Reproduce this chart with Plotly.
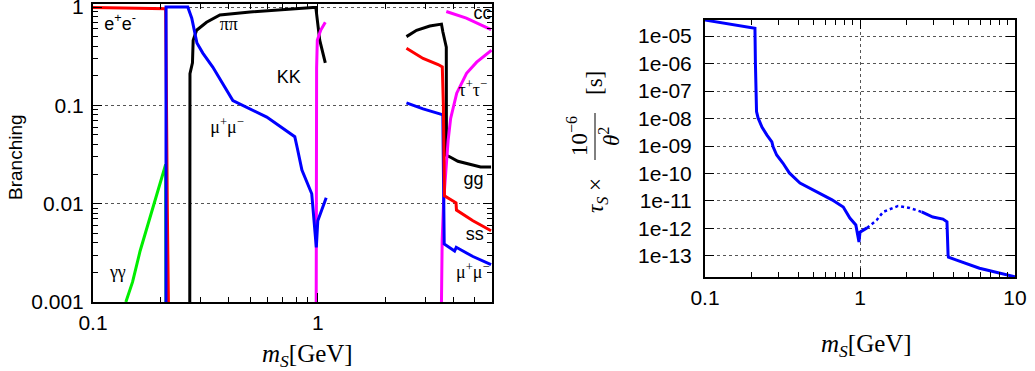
import plotly.graph_objects as go

##########################################################################################################################
# left panel : branching ratios of the scalar, m_S in GeV
##########################################################################################################################

ee_m = [0.1, 0.15, 0.2, 0.2105, 0.2115, 0.2125, 0.214, 0.2165]
ee_br = [0.99, 0.98, 0.97, 0.96, 0.3, 0.05, 0.01, 0.001]

gam_m = [0.14, 0.15, 0.162, 0.175, 0.185, 0.195, 0.205, 0.2105, 0.2112]
gam_br = [0.001, 0.0016, 0.0033, 0.006, 0.0095, 0.014, 0.021, 0.025, 0.001]

mu_m = [0.2112, 0.2113, 0.264, 0.27, 0.275, 0.29, 0.308, 0.341, 0.378, 0.419, 0.593, 0.79, 0.81, 0.85, 0.94, 0.985, 1.0, 1.09]
mu_br = [0.001, 1.0, 1.0, 0.87, 0.77, 0.43, 0.34, 0.245, 0.167, 0.112, 0.076, 0.048, 0.037, 0.022, 0.0126, 0.0036, 0.0067, 0.0115]

pi_m = [0.2695, 0.2697, 0.27, 0.277, 0.279, 0.289, 0.32, 0.367, 0.5, 0.95, 0.98, 1.02, 1.08]
pi_br = [0.001, 0.112, 0.21, 0.27, 0.46, 0.58, 0.7, 0.83, 0.89, 0.99, 0.99, 0.46, 0.27]

kk_m = [0.984, 0.985, 0.986, 0.988, 0.995, 1.03, 1.08]
kk_br = [0.001, 0.02, 0.1, 0.24, 0.46, 0.58, 0.7]

# perturbative region
gg_m = [2.48, 2.75, 3.15, 3.55, 3.6, 3.73, 3.735, 3.86, 4.2, 5.3, 5.9]
gg_br = [0.5, 0.58, 0.64, 0.67, 0.56, 0.39, 0.031, 0.03, 0.027, 0.0236, 0.0236]

ss_m = [2.48, 2.94, 3.43, 3.58, 3.62, 3.66, 4.12, 4.14, 4.9, 5.9]
ss_br = [0.38, 0.3, 0.26, 0.246, 0.1, 0.012, 0.0102, 0.0086, 0.0067, 0.0053]

mu2_m = [2.48, 2.94, 3.49, 3.6, 3.65, 4.06, 4.13, 4.9, 5.9]
mu2_br = [0.106, 0.092, 0.082, 0.08, 0.0039, 0.0033, 0.0036, 0.0029, 0.0024]

cc_m = [3.73, 4.58, 5.9]
cc_br = [0.9, 0.77, 0.59]

tau_m = [3.55, 3.575, 3.63, 3.71, 3.8, 3.9, 4.15, 4.59, 5.09, 5.93]
tau_br = [0.001, 0.0042, 0.0107, 0.0217, 0.044, 0.0736, 0.133, 0.212, 0.275, 0.364]

##########################################################################################################################
# right panel : lifetime tau_S * 1e-6/theta^2 [s]
##########################################################################################################################

life_m1 = [0.1, 0.21, 0.2115, 0.2125, 0.215, 0.22, 0.233, 0.251, 0.27, 0.275, 0.29, 0.318, 0.35, 0.41, 0.53, 0.66, 0.78, 0.86, 0.94, 0.985, 1.0, 1.11]
life_t1 = [3.8e-05, 1.9e-05, 1e-06, 4.0e-08, 1.8e-08, 1.05e-08, 4.9e-09, 2.5e-09, 1.4e-09, 9.3e-10, 4.7e-10, 2.4e-10, 1.05e-10,
           4.5e-11, 2.1e-11, 1.1e-11, 6.0e-12, 2.4e-12, 1.35e-12, 3.2e-13, 7.4e-13, 1.05e-12]

life_m_dot = [1.11, 1.28, 1.41, 1.76, 2.09, 2.5]
life_t_dot = [1.05e-12, 2.0e-12, 4.0e-12, 6.6e-12, 5.6e-12, 4.0e-12]

life_m2 = [2.5, 2.95, 3.43, 3.64, 3.7, 3.72, 4.2, 5.9, 10]
life_t2 = [4.0e-12, 2.6e-12, 2.2e-12, 1.75e-12, 1.1e-13, 9.1e-14, 7.1e-14, 3.6e-14, 1.75e-14]

##########################################################################################################################

RED = '#ff0000'
BLUE = '#0000ff'
GREEN = '#00ee00'
MAGENTA = '#ff00ff'
BLACK = '#000000'
SANS = 'Liberation Sans, Arial, sans-serif'
SERIF = 'Liberation Serif, Times New Roman, serif'

fig = go.Figure()

def add_line(x, y, color, xa='x', ya='y', width=3, dash='solid'):
    fig.add_trace(go.Scatter(x=x, y=y, mode='lines', xaxis=xa, yaxis=ya,
                             line=dict(color=color, width=width, dash=dash),
                             showlegend=False, hoverinfo='skip'))

# left panel
add_line(gam_m, gam_br, GREEN)
add_line(ee_m, ee_br, RED)
add_line(pi_m, pi_br, BLACK)
add_line(kk_m, kk_br, MAGENTA)
add_line(mu_m, mu_br, BLUE)
add_line(gg_m, gg_br, BLACK)
add_line(cc_m, cc_br, MAGENTA)
add_line(tau_m, tau_br, MAGENTA)
add_line(mu2_m, mu2_br, BLUE)
add_line(ss_m, ss_br, RED)

# labels (scatter text so they are clipped by the frame like the original)
labels = [
    ('e<sup>+</sup>e<sup>-</sup>', 0.132, 0.655, SANS),
    ('\u03c0\u03c0', 0.402, 0.655, SERIF),
    ('KK', 0.743, 0.189, SANS),
    ('\u03bc<sup>+</sup>\u03bc<sup>\u2212</sup>', 0.395, 0.058, SERIF),
    ('\u03b3\u03b3', 0.129, 0.00193, SERIF),
    ('cc', 5.41, 0.83, SANS),
    ('\u03c4<sup>+</sup>\u03c4<sup>\u2212</sup>', 4.89, 0.139, SERIF),
    ('gg', 4.93, 0.0172, SANS),
    ('ss', 4.99, 0.0047, SANS),
    ('\u03bc<sup>+</sup>\u03bc<sup>\u2212</sup>', 4.89, 0.00193, SERIF),
]
for txt, lx, ly, fam in labels:
    fig.add_trace(go.Scatter(x=[lx], y=[ly], mode='text', text=[txt], textposition='middle center',
                             textfont=dict(family=fam, size=18, color='black'),
                             cliponaxis=True, showlegend=False, hoverinfo='skip'))

# right panel
add_line(life_m1, life_t1, BLUE, 'x2', 'y2')
add_line(life_m_dot, life_t_dot, BLUE, 'x2', 'y2', width=2.5, dash='dot')
add_line(life_m2, life_t2, BLUE, 'x2', 'y2')

##########################################################################################################################
# axes
##########################################################################################################################

W, H = 1035, 371

def minor_vals(lo, hi):
    out = []
    e = lo
    while e < hi:
        for k in range(2, 10):
            out.append(k * 10 ** e)
        e += 1
    return out

axis_common = dict(type='log', showline=True, linecolor='black', linewidth=2, mirror='ticks',
                   ticks='inside', ticklen=9, tickwidth=1, tickcolor='black', zeroline=False,
                   automargin=False, ticklabeloverflow='allow',
                   tickfont=dict(family=SANS, size=21, color='black'),
                   gridcolor='#555555', griddash='dot', gridwidth=1)

left_minor_x = [v for v in minor_vals(-1, 1) if v <= 6]

fig.update_layout(
    width=W, height=H,
    margin=dict(l=0, r=0, t=0, b=0, pad=0, autoexpand=False),
    paper_bgcolor='white', plot_bgcolor='white',
    xaxis=dict(axis_common, domain=[93 / W, 492 / W], range=[-1, 0.775], showgrid=False,
               tickmode='array', tickvals=[0.1, 1], ticktext=['0.1', '1'], ticklabelstandoff=1,
               minor=dict(tickmode='array', tickvals=left_minor_x, ticks='inside', ticklen=5, tickcolor='black', showgrid=False),
               anchor='y'),
    yaxis=dict(axis_common, domain=[1 - 302 / H, 1 - 4 / H], range=[-3, 0.0306], showgrid=True,
               tickmode='array', tickvals=[0.001, 0.01, 0.1, 1], ticktext=['0.001', '0.01', '0.1', '1'], ticklabelstandoff=3,
               minor=dict(tickmode='array', tickvals=minor_vals(-3, 0), ticks='inside', ticklen=5, tickcolor='black', showgrid=False),
               anchor='x'),
    xaxis2=dict(axis_common, domain=[705 / W, 1015 / W], range=[-1, 1], showgrid=True,
                tickmode='array', tickvals=[0.1, 1, 10], ticktext=['0.1', '1', '10'], ticklabelstandoff=1,
                minor=dict(tickmode='array', tickvals=minor_vals(-1, 1), ticks='inside', ticklen=5, tickcolor='black', showgrid=False),
                anchor='y2'),
    yaxis2=dict(axis_common, domain=[1 - 277 / H, 1 - 20 / H], range=[-13.764, -4.418], showgrid=True,
                tickmode='array', tickvals=[10 ** -k for k in range(5, 14)],
                ticktext=['1e-%02d' % k for k in range(5, 14)], ticklabelstandoff=7,
                anchor='x2'),
)

##########################################################################################################################
# axis titles
##########################################################################################################################

def note(text, px, py, size, fam=SERIF, angle=0):
    fig.add_annotation(text=text, x=px / W, y=1 - py / H, xref='paper', yref='paper', textangle=angle,
                       xanchor='center', yanchor='middle', showarrow=False,
                       font=dict(family=fam, size=size, color='black'))

note('Branching', 16, 157, 19, SANS, -90)
note('<i>m</i><sub><i>S</i></sub>[GeV]', 307, 355, 25)
note('<i>m</i><sub><i>S</i></sub>[GeV]', 866, 345, 25)

# tau_S x 10^-6 / theta^2 [s], written as a fraction
note('<i>\u03c4</i><sub><i>S</i></sub> \u00d7', 597, 196, 23, angle=-90)
note('10<sup>\u22126</sup>', 578, 136, 23, angle=-90)
note('<i>\u03b8</i><sup>2</sup>', 609, 137, 23, angle=-90)
note('[s]', 594, 83, 23, angle=-90)
fig.add_shape(type='line', xref='paper', yref='paper', x0=595 / W, x1=595 / W, y0=1 - 113 / H, y1=1 - 160 / H,
              line=dict(color='black', width=1))

# body has a default 8px margin; drop it so the figure sits at the page corner
fig.write_html("out.html", config={'displayModeBar': False},
               post_script="document.body.style.margin='0px';")
